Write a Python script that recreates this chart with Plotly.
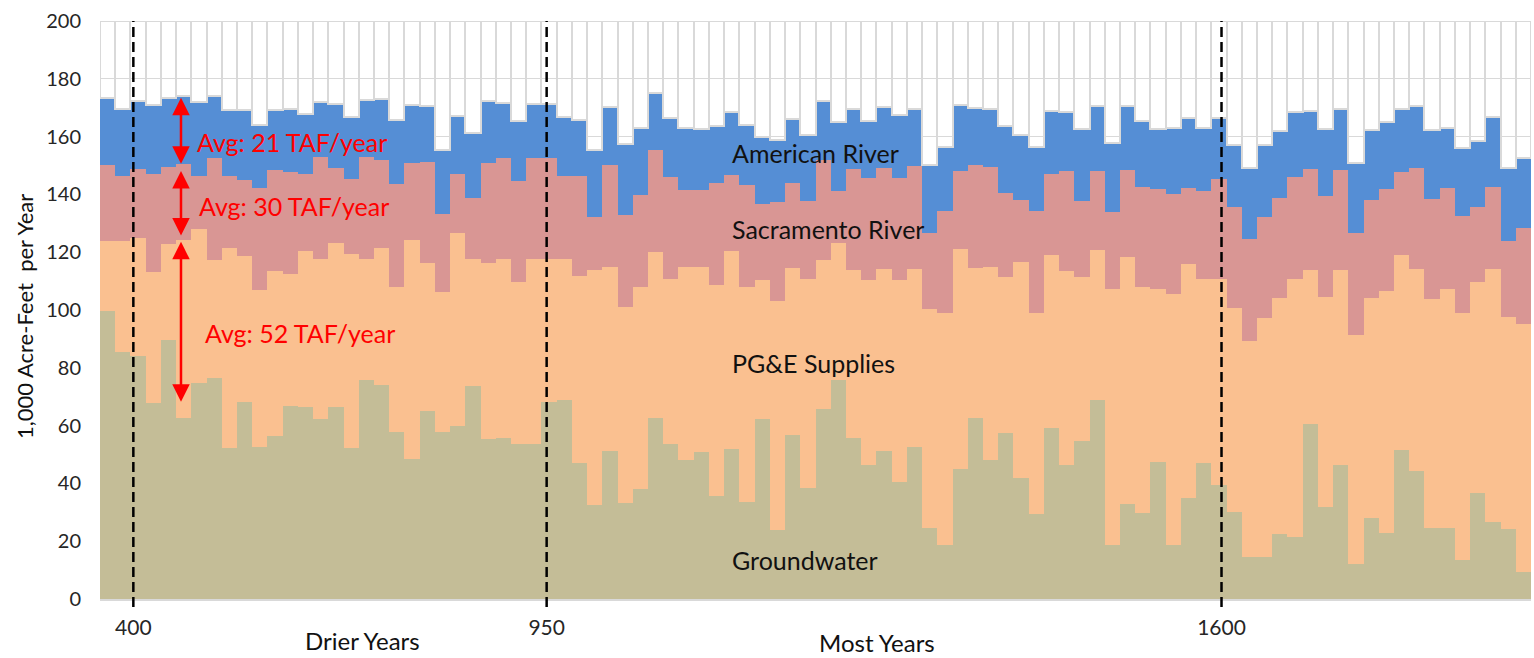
import plotly.graph_objects as go

# ---- data (1,000 acre-feet per year), one bar per year, sorted dry -> wet ----
groundwater = [99.6, 85.3, 84.1, 67.9, 89.6, 62.8, 74.9, 76.5, 52.3, 68.1,
               52.7, 56.5, 66.9, 66.3, 62.4, 66.5, 52.3, 75.7, 74.0, 57.8,
               48.6, 65.1, 57.8, 59.8, 73.7, 55.2, 55.6, 53.8, 53.6, 68.2,
               68.8, 47.1, 32.7, 51.3, 33.1, 38.0, 62.7, 53.5, 48.1, 50.9,
               35.6, 51.9, 33.4, 62.3, 23.9, 56.7, 38.5, 65.9, 75.7, 55.6,
               46.3, 51.3, 40.6, 52.7, 24.7, 18.7, 45.1, 62.7, 48.1, 57.6,
               41.7, 29.3, 59.0, 46.3, 54.8, 68.8, 18.7, 33.0, 29.6, 47.5,
               18.7, 35.0, 47.1, 39.3, 30.1, 14.6, 14.6, 22.5, 21.3, 60.5,
               31.7, 46.3, 12.1, 27.9, 22.9, 51.4, 44.3, 24.7, 24.7, 13.5,
               36.8, 26.7, 24.2, 9.2]
pge_supplies = [24.3, 38.6, 40.9, 45.3, 33.4, 61.4, 53.0, 40.7, 69.0, 50.6,
                54.2, 57.0, 45.7, 54.2, 55.2, 56.7, 67.0, 41.9, 47.3, 50.2,
                75.6, 51.0, 48.5, 66.9, 43.8, 60.9, 62.0, 55.9, 64.0, 49.4,
                48.8, 64.6, 81.1, 63.6, 67.8, 70.0, 57.4, 57.1, 66.8, 64.0,
                73.2, 68.5, 74.6, 48.0, 79.2, 57.9, 72.4, 51.3, 47.5, 58.2,
                64.0, 62.8, 69.7, 61.4, 75.8, 80.4, 76.1, 51.9, 66.8, 53.7,
                75.0, 69.8, 60.2, 67.1, 56.5, 51.9, 88.7, 85.4, 78.3, 59.6,
                86.7, 80.8, 63.5, 71.3, 70.6, 74.6, 82.5, 81.7, 89.6, 53.3,
                72.9, 67.5, 79.2, 76.3, 83.7, 67.8, 69.8, 79.2, 82.7, 85.3,
                72.8, 87.4, 73.3, 85.8]
sacramento_river = [26.2, 22.5, 23.9, 33.7, 26.5, 26.2, 18.5, 35.4, 25.1, 26.2,
                    35.3, 34.9, 35.2, 26.7, 35.4, 26.0, 25.9, 35.4, 30.5, 35.5,
                    26.5, 35.2, 26.8, 20.2, 21.1, 34.8, 35.0, 35.0, 35.0, 35.0,
                    28.8, 34.7, 18.4, 35.2, 32.1, 31.7, 35.4, 35.5, 26.5, 26.5,
                    35.0, 26.3, 35.1, 26.5, 34.3, 29.2, 26.9, 34.8, 17.9, 34.9,
                    35.4, 35.1, 35.4, 35.6, 26.3, 35.1, 26.8, 35.5, 34.6, 29.2,
                    21.3, 35.1, 28.0, 34.6, 26.3, 27.3, 26.4, 30.0, 34.7, 34.7,
                    34.9, 26.3, 30.7, 34.6, 34.8, 35.5, 35.0, 34.7, 35.0, 35.0,
                    34.8, 34.6, 35.2, 33.8, 35.2, 28.4, 35.1, 34.6, 34.7, 33.9,
                    26.0, 28.4, 26.3, 33.3]
american_river = [23.1, 23.3, 23.4, 24.2, 24.0, 23.6, 25.6, 21.4, 22.7, 24.2,
                  21.7, 20.7, 21.9, 20.5, 18.9, 22.2, 21.6, 19.6, 21.2, 22.2,
                  20.3, 19.3, 22.2, 20.4, 22.5, 21.4, 19.2, 20.6, 18.8, 18.8,
                  20.4, 19.3, 23.1, 20.1, 24.4, 23.4, 19.7, 20.4, 21.7, 21.4,
                  19.8, 21.8, 20.8, 23.1, 21.3, 22.2, 22.6, 20.3, 23.8, 21.0,
                  19.6, 21.0, 21.7, 20.0, 23.3, 22.2, 23.1, 19.8, 20.2, 23.1,
                  22.6, 22.2, 21.7, 20.5, 25.2, 22.6, 24.0, 22.2, 22.7, 21.0,
                  22.8, 24.4, 21.8, 21.3, 21.7, 24.6, 25.1, 23.0, 22.6, 20.2,
                  23.4, 21.0, 24.2, 24.2, 23.1, 21.8, 21.4, 23.9, 21.0, 23.3,
                  22.9, 24.3, 25.5, 24.3]

series_names = ["Groundwater", "PG&E Supplies", "Sacramento River", "American River"]
series_colors = ["#C4BD97", "#FAC090", "#D99694", "#558ED5"]
capacity = 200

tick_labels = ["400", "950", "1600"]
tick_positions = [1.69, 28.84, 73.17]          # bar-index positions of the markers
avg_labels = ["Avg: 21 TAF/year", "Avg: 30 TAF/year", "Avg: 52 TAF/year"]

FONT = "Lato"

years = list(range(len(groundwater)))
series = [groundwater, pge_supplies, sacramento_river, american_river]
totals = [sum(v) for v in zip(*series)]
remainder = [capacity - t for t in totals]

fig = go.Figure()
for name, vals, col in zip(series_names, series, series_colors):
    fig.add_trace(go.Bar(x=years, y=vals, name=name, marker=dict(color=col, line=dict(width=0)),
                         showlegend=False))
fig.add_trace(go.Bar(x=years, y=remainder, name="Unused",
                     marker=dict(color="rgba(255,255,255,0)", line=dict(color="#D9D9D9", width=2)),
                     showlegend=False))

# dashed reference lines
for tp in tick_positions:
    fig.add_shape(type="line", xref="x", yref="paper", x0=tp, x1=tp, y0=-0.014, y1=1,
                  line=dict(color="black", width=2.5, dash="10px,5px"), layer="above")

annotations = []
# series labels inside the chart
label_x = 40.9
for txt, yv in zip(["American River", "Sacramento River", "PG&E Supplies", "Groundwater"],
                   [154.2, 128.2, 81.5, 13.5]):
    annotations.append(dict(x=label_x, y=yv, xref="x", yref="y", text=txt, showarrow=False,
                            xanchor="left", yanchor="middle",
                            font=dict(family=FONT, size=25, color="#111111")))

# red average arrows and labels
arrow_x = 4.82
arrow_spans = [(173.4, 150.1), (148.1, 125.3), (123.6, 67.7)]
for (y_top, y_bot) in arrow_spans:
    annotations.append(dict(x=arrow_x, y=y_top, ax=arrow_x, ay=y_bot, xref="x", yref="y",
                            axref="x", ayref="y", text="", showarrow=True,
                            arrowhead=2, arrowside="end+start", arrowsize=1.4, arrowwidth=2.5,
                            arrowcolor="#FF0000", standoff=0, startstandoff=0))
for txt, xv, yv in zip(avg_labels, [5.74, 5.85, 6.29], [158.2, 135.9, 91.9]):
    annotations.append(dict(x=xv, y=yv, xref="x", yref="y", text=txt, showarrow=False,
                            xanchor="left", yanchor="middle",
                            font=dict(family=FONT, size=25, color="#FF0000")))

# axis captions
annotations.append(dict(x=(362 - 100) / 1431, y=(599 - 640) / 578, xref="paper", yref="paper",
                        text="Drier Years", showarrow=False, xanchor="center", yanchor="middle",
                        font=dict(family=FONT, size=24, color="#111111")))
annotations.append(dict(x=(877 - 100) / 1431, y=(599 - 642) / 578, xref="paper", yref="paper",
                        text="Most Years", showarrow=False, xanchor="center", yanchor="middle",
                        font=dict(family=FONT, size=24, color="#111111")))
annotations.append(dict(x=(24 - 100) / 1431, y=(599 - 317) / 578, xref="paper", yref="paper",
                        text="1,000 Acre-Feet  per Year", textangle=-90, showarrow=False,
                        xanchor="center", yanchor="middle",
                        font=dict(family=FONT, size=22, color="#111111")))

fig.update_layout(
    barmode="stack", bargap=0, bargroupgap=0,
    width=1534, height=658,
    margin=dict(l=100, r=3, t=21, b=59),
    plot_bgcolor="white", paper_bgcolor="white",
    annotations=annotations,
    xaxis=dict(range=[-0.5, len(years) - 0.5], tickvals=tick_positions, ticktext=tick_labels,
               showgrid=False, zeroline=False, showline=True, linecolor="#D9D9D9", linewidth=1.5,
               ticks="", tickfont=dict(family=FONT, size=21, color="#262626"),
               ticklabelstandoff=9),
    yaxis=dict(range=[0, capacity], dtick=20, showgrid=True, gridcolor="#D9D9D9", gridwidth=1.3,
               zeroline=False, showline=False, ticks="",
               tickfont=dict(family=FONT, size=20, color="#262626"), ticklabelstandoff=18),
)

fig.write_html(
    "out.html",
    config={"displayModeBar": False},
    post_script="document.body.style.margin='0';document.body.style.overflow='hidden';"
                "document.documentElement.style.overflow='hidden';",
)
